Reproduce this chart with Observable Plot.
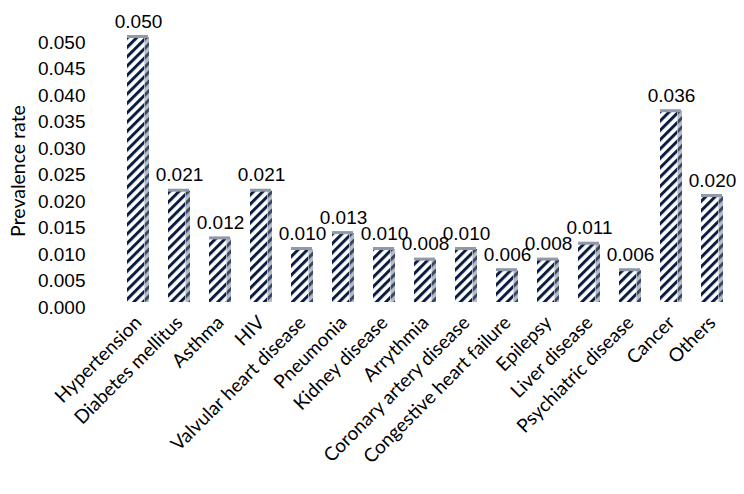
<!DOCTYPE html>
<html><head><meta charset="utf-8">
<script src="https://cdn.jsdelivr.net/npm/d3@7"></script>
<script src="https://cdn.jsdelivr.net/npm/@observablehq/plot@0.6"></script>
<style>body{margin:0;background:#fff;} svg{display:block;}</style>
</head><body><div id="chart"></div>
<script>
const categories = ["Hypertension","Diabetes mellitus","Asthma","HIV","Valvular heart disease","Pneumonia","Kidney disease","Arrythmia","Coronary artery disease","Congestive heart failure","Epilepsy","Liver disease","Psychiatric disease","Cancer","Others"];
const values = [0.050,0.021,0.012,0.021,0.010,0.013,0.010,0.008,0.010,0.006,0.008,0.011,0.006,0.036,0.020];
const yTicks = [0,0.005,0.01,0.015,0.02,0.025,0.03,0.035,0.04,0.045,0.05];
const data = categories.map((c,i)=>({category:c, value:values[i]}));

const W = 744, H = 494, ML = 122, MR = 16, MT = 42, MB = 187;
const pin = 0.46;
const step = (W-ML-MR)/(categories.length - pin);
const bw = step*(1-pin);
const side = 5;

const chart = Plot.plot({
  width: W, height: H,
  marginLeft: ML, marginRight: MR, marginTop: MT, marginBottom: MB,
  style: {fontFamily: "'Liberation Sans', Arial, sans-serif", fontSize: "19px", color: "#000", background: "#fff", overflow: "visible"},
  x: {domain: categories, paddingInner: pin, paddingOuter: 0, label: null},
  y: {domain: [0, 0.05], label: null},
  marks: [
    Plot.axisY({ticks: yTicks, tickFormat: d3.format(".3f"), tickSize: 0, tickPadding: 37, fontSize: 19, label: null}),
    Plot.axisX({tickSize: 0, tickRotate: -45, tickPadding: 12, fontSize: 19, fontFamily: "Lato, Carlito, sans-serif", label: null}),
    Plot.barY(data, {x: "category", y: "value", fill: "url(#stripes)", insetRight: side, dy: -5}),
    Plot.barY(data, {x: "category", y: "value", fill: "url(#sidestripes)", insetLeft: bw - side, dy: -5}),
    Plot.tickY(data, {x: "category", y: "value", stroke: "#8f99a8", strokeWidth: 3, insetRight: 1, dy: -6}),
    Plot.text(data, {x: "category", y: "value", text: d => d3.format(".3f")(d.value), dy: -21, fontSize: 19, fill: "#000"}),
    Plot.text([0.025], {y: d => d, frameAnchor: "left", textAnchor: "middle", dx: -104, dy: -4, rotate: -90, text: () => "Prevalence rate", fontSize: 19.5, fontFamily: "Lato, Carlito, sans-serif", fill: "#000"})
  ]
});

const ns = "http://www.w3.org/2000/svg";
const defs = document.createElementNS(ns, "defs");
defs.innerHTML = `
<pattern id="stripes" patternUnits="userSpaceOnUse" width="6.6" height="6.6" patternTransform="rotate(45)">
  <rect width="6.6" height="6.6" fill="#ffffff"/>
  <rect width="3" height="6.6" fill="#0c1d42"/>
</pattern>
<pattern id="sidestripes" patternUnits="userSpaceOnUse" width="6.6" height="6.6" patternTransform="rotate(45)">
  <rect width="6.6" height="6.6" fill="#b4bcc8"/>
  <rect width="3" height="6.6" fill="#3a4763"/>
</pattern>`;
chart.insertBefore(defs, chart.firstChild);
document.getElementById("chart").appendChild(chart);
</script>
</body></html>
